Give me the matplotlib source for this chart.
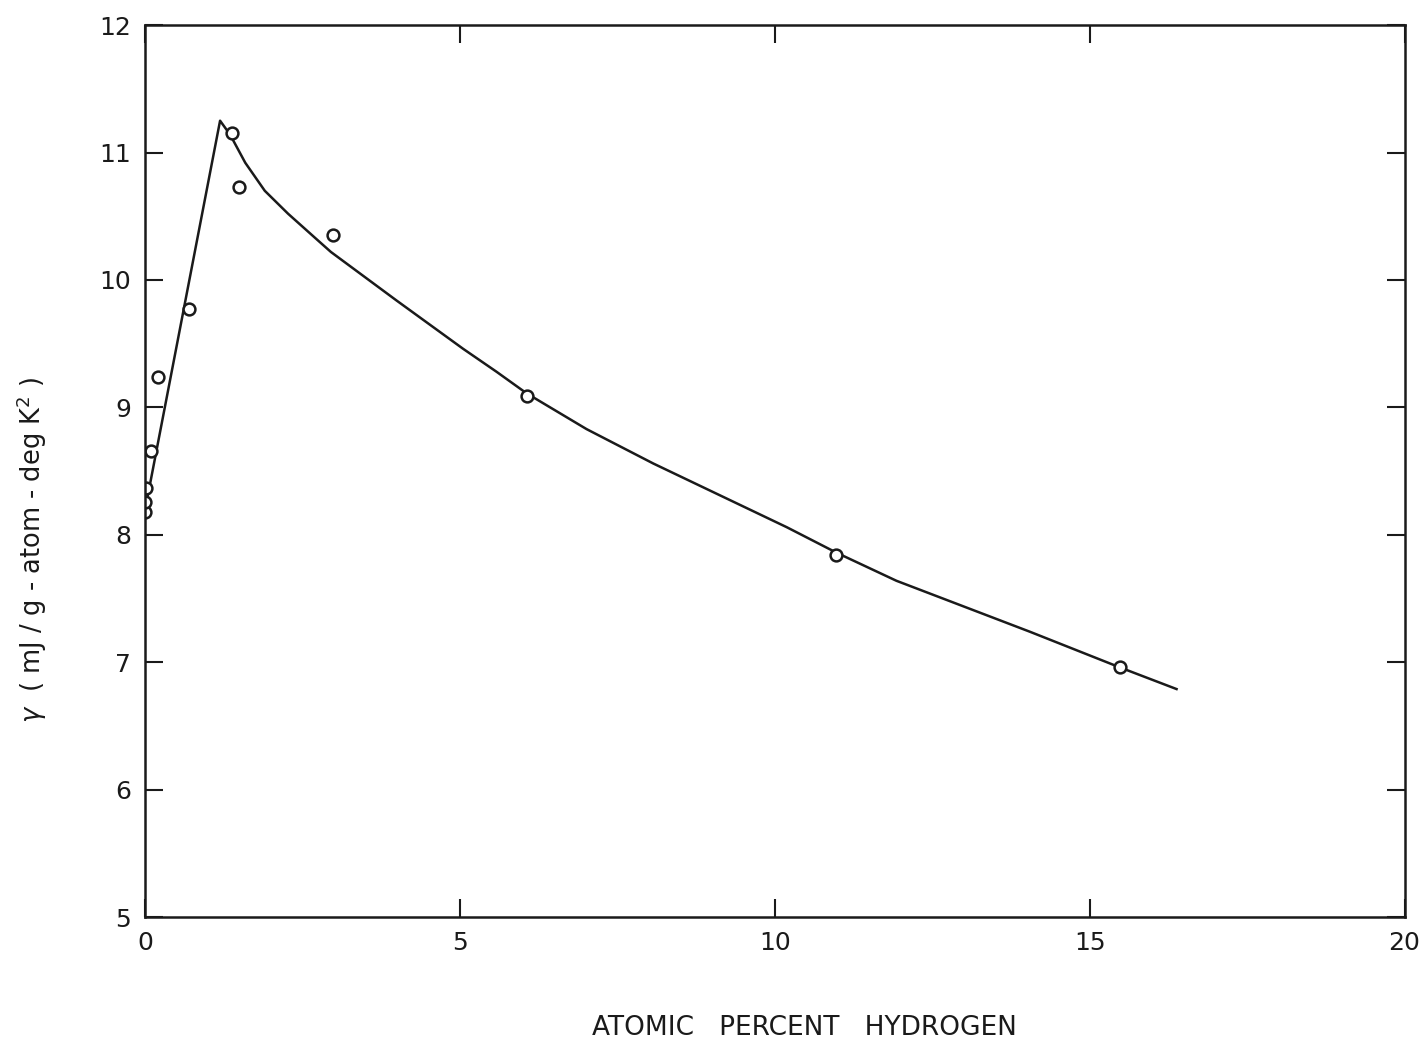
import numpy as np
import matplotlib.pyplot as plt

# measured points (atomic % H, gamma)
pct_h = [0.0, 0.0, 0.02, 0.09, 0.2, 0.69, 1.38, 1.49, 2.98, 6.06, 10.97, 15.48]
gamma = [8.18, 8.26, 8.37, 8.66, 9.24, 9.77, 11.15, 10.73, 10.35, 9.09, 7.84, 6.96]

# drawn curve
curve_x = [0.0, 1.19, 1.35, 1.59, 1.90, 2.27, 2.70, 2.95, 3.47, 3.99, 4.52,
           5.05, 5.58, 6.06, 7.01, 8.07, 9.13, 10.19, 10.98, 11.93, 12.99,
           14.05, 15.48, 16.38]
curve_y = [8.2, 11.25, 11.14, 10.92, 10.70, 10.52, 10.33, 10.22, 10.03, 9.84, 9.65,
           9.46, 9.28, 9.11, 8.83, 8.56, 8.31, 8.06, 7.86, 7.64, 7.44,
           7.24, 6.96, 6.79]

x_ticks = [0, 5, 10, 15, 20]
y_ticks = [5, 6, 7, 8, 9, 10, 11, 12]

fig = plt.figure(figsize=(14.23, 10.47), dpi=100)
ax = fig.add_axes([0.102, 0.124, 0.885, 0.852])

ax.plot(curve_x, curve_y, color='#1a1a1a', lw=1.8, solid_joinstyle='round')
ax.plot(pct_h, gamma, 'o', mfc='white', mec='#1a1a1a', mew=1.8, ms=8.5)

ax.set_xlim(0, 20)
ax.set_ylim(5, 12)
ax.set_xticks(x_ticks)
ax.set_yticks(y_ticks)
ax.tick_params(direction='in', length=13, width=1.5, top=True, right=True,
               labelsize=18, pad=10, colors='#1a1a1a')
for s in ax.spines.values():
    s.set_linewidth(1.8)
    s.set_color('#1a1a1a')

fig.text(0.565, 0.018, 'ATOMIC   PERCENT   HYDROGEN', ha='center', va='center',
         fontsize=19, color='#1a1a1a')
fig.text(0.022, 0.475, r'$\gamma$  ( mJ / g - atom - deg K$^2$ )', rotation=90,
         ha='center', va='center', fontsize=18.5, color='#1a1a1a')

fig.savefig('out.png', dpi=100)
